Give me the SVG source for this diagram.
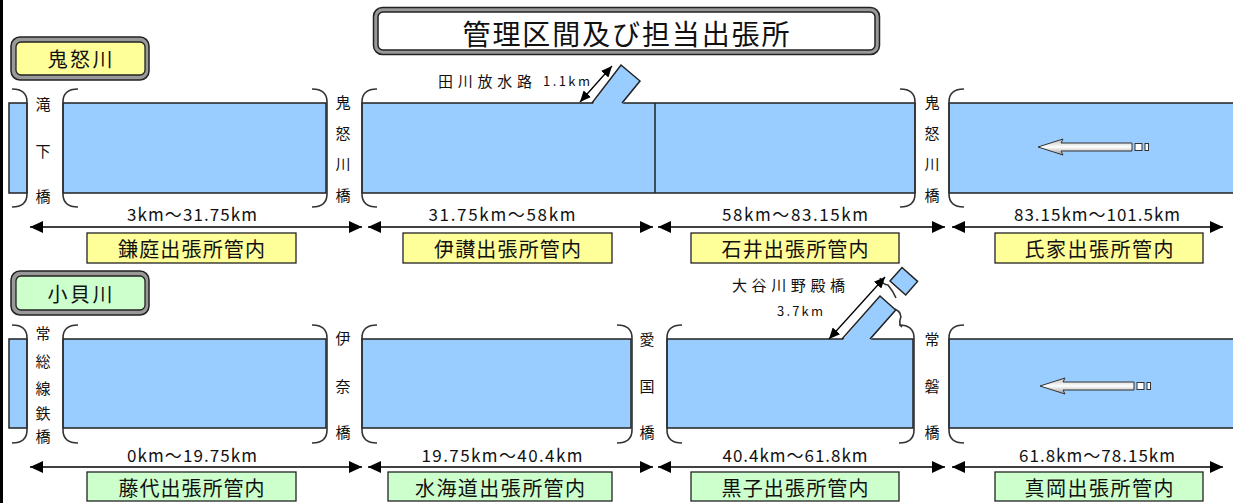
<svg xmlns="http://www.w3.org/2000/svg" xmlns:xlink="http://www.w3.org/1999/xlink" width="1233" height="503" viewBox="0 0 1233 503">
<style>
text{font-family:"Noto Sans CJK JP","Noto Sans CJK SC",sans-serif;fill:#111;}
.river{fill:#99CCFF;stroke:#222;stroke-width:1.5;}
.trib{fill:#99CCFF;stroke:none;}
.edge{fill:none;stroke:#222;stroke-width:1.5;}
.brk{fill:none;stroke:#333;stroke-width:1.6;}
.dim{stroke:#000;stroke-width:1.5;fill:none;marker-start:url(#ah);marker-end:url(#ah);}
.dim2{stroke:#000;stroke-width:1.3;fill:none;marker-start:url(#ah2);marker-end:url(#ah2);}
.vb{font-size:15px;text-anchor:middle;dominant-baseline:central;}
.km{font-size:17px;text-anchor:middle;dominant-baseline:central;}
.off{font-size:20px;text-anchor:middle;dominant-baseline:central;}
.ybox{fill:#FFFF99;stroke:#222;stroke-width:1.3;}
.gbox{fill:#CCFFCC;stroke:#222;stroke-width:1.3;}
.band{fill:#999;stroke:#222;stroke-width:1.5;}
</style>
<defs>
<marker id="ah" markerUnits="userSpaceOnUse" markerWidth="14" markerHeight="12" refX="13" refY="6" orient="auto-start-reverse"><path d="M0,0 L13,6 L0,12 Z" fill="#000"/></marker>
<marker id="ah2" markerUnits="userSpaceOnUse" markerWidth="12" markerHeight="10" refX="11" refY="5" orient="auto-start-reverse"><path d="M0,0 L11,5 L0,10 Z" fill="#000"/></marker>
<linearGradient id="ag" x1="0" y1="0" x2="0" y2="1"><stop offset="0" stop-color="#bbb"/><stop offset="0.5" stop-color="#fff"/><stop offset="1" stop-color="#999"/></linearGradient>
<g id="flow">
<path d="M0,0 L25,-8 L23,-4 L94,-4 L94,4 L23,4 L25,8 Z" fill="url(#ag)" stroke="#333" stroke-width="1"/>
<rect x="97" y="-3.5" width="7" height="7" fill="#fff" stroke="#333" stroke-width="1"/>
<rect x="107" y="-3.5" width="3.5" height="7" fill="#fff" stroke="#333" stroke-width="1"/>
</g>
</defs>
<rect x="0" y="0" width="1233" height="503" fill="#fff"/>
<rect x="0" y="0" width="3" height="503" fill="#000"/>

<g id="title">
<rect x="373.5" y="7.5" width="506" height="47" rx="9" class="band"/>
<rect x="378" y="12" width="497" height="38" rx="5" fill="#fff" stroke="#222" stroke-width="1.5"/>
<text x="626" y="33" font-size="28" text-anchor="middle" dominant-baseline="central" textLength="327" lengthAdjust="spacing">管理区間及び担当出張所</text>
</g>

<g id="label-kinugawa">
<rect x="11" y="37" width="138" height="43" rx="9" class="band"/>
<rect x="16" y="42" width="129" height="33" rx="5" class="ybox" stroke-width="1.5"/>
<text x="80" y="58" font-size="20" text-anchor="middle" dominant-baseline="central" textLength="65" lengthAdjust="spacing">鬼怒川</text>
</g>

<g id="label-kokaigawa">
<rect x="11" y="271" width="138" height="44" rx="9" class="band"/>
<rect x="16" y="276" width="129" height="34" rx="5" class="gbox" stroke-width="1.5"/>
<text x="80" y="293" font-size="20" text-anchor="middle" dominant-baseline="central" textLength="65" lengthAdjust="spacing">小貝川</text>
</g>

<!-- Row 1 river -->
<g id="river-kinugawa">
<rect x="9" y="103" width="18" height="90" class="river"/>
<rect x="63" y="103" width="263" height="90" class="river"/>
<rect x="362" y="103" width="553" height="90" class="river"/>
<line x1="655" y1="103" x2="655" y2="193" stroke="#222" stroke-width="1.5"/>
<rect x="949" y="103" width="290" height="90" class="river"/>
<use xlink:href="#flow" href="#flow" x="1038" y="147"/>
</g>

<g id="tributary-tagawa">
<path d="M592,105 L621,65 L640,81 L622,105 Z" class="trib"/>
<path d="M592,103 L621,65 L640,81 L622,103" class="edge"/>
<text x="438" y="80" font-size="15" dominant-baseline="central" textLength="94" lengthAdjust="spacing">田川放水路</text>
<text x="543" y="80" font-size="13" dominant-baseline="central" textLength="47" lengthAdjust="spacing">1.1km</text>
</g>

<g id="brackets-row1">
<path d="M12,89 Q27,89 27,102 L27,194 Q27,207 12,207" class="brk"/>
<path d="M78,89 Q63,89 63,102 L63,194 Q63,207 78,207" class="brk"/>
<path d="M312,89 Q327,89 327,102 L327,194 Q327,207 312,207" class="brk"/>
<path d="M377,89 Q362,89 362,102 L362,194 Q362,207 377,207" class="brk"/>
<path d="M900,89 Q915,89 915,102 L915,194 Q915,207 900,207" class="brk"/>
<path d="M964,89 Q949,89 949,102 L949,194 Q949,207 964,207" class="brk"/>
</g>

<g id="bridge-takishita">
<text x="43" y="103" class="vb">滝</text>
<text x="43" y="150" class="vb">下</text>
<text x="43" y="195" class="vb">橋</text>
</g>
<g id="bridge-kinugawa-1">
<text x="343" y="101" class="vb">鬼</text>
<text x="343" y="132" class="vb">怒</text>
<text x="343" y="163" class="vb">川</text>
<text x="343" y="194" class="vb">橋</text>
</g>
<g id="bridge-kinugawa-2">
<text x="932" y="101" class="vb">鬼</text>
<text x="932" y="132" class="vb">怒</text>
<text x="932" y="163" class="vb">川</text>
<text x="932" y="194" class="vb">橋</text>
</g>

<g id="km-row1">
<text x="192" y="213" class="km" textLength="130" lengthAdjust="spacing">3km～31.75km</text>
<text x="502" y="213" class="km" textLength="147" lengthAdjust="spacing">31.75km～58km</text>
<text x="795" y="213" class="km" textLength="146" lengthAdjust="spacing">58km～83.15km</text>
<text x="1097" y="213" class="km" textLength="166" lengthAdjust="spacing">83.15km～101.5km</text>
</g>

<g id="office-kamaniwa"><rect x="87" y="233" width="209" height="30" class="ybox"/><text x="191.5" y="248" class="off" textLength="147" lengthAdjust="spacing">鎌庭出張所管内</text></g>
<g id="office-isan"><rect x="403" y="233" width="209" height="30" class="ybox"/><text x="507.5" y="248" class="off" textLength="147" lengthAdjust="spacing">伊讃出張所管内</text></g>
<g id="office-ishii"><rect x="691" y="233" width="208" height="30" class="ybox"/><text x="795" y="248" class="off" textLength="147" lengthAdjust="spacing">石井出張所管内</text></g>
<g id="office-ujiie"><rect x="995" y="233" width="208" height="30" class="ybox"/><text x="1099" y="248" class="off" textLength="149" lengthAdjust="spacing">氏家出張所管内</text></g>

<!-- Row 2 river -->
<g id="river-kokaigawa">
<rect x="9" y="339" width="18" height="89" class="river"/>
<rect x="63" y="339" width="263" height="89" class="river"/>
<rect x="362" y="339" width="269" height="89" class="river"/>
<rect x="667" y="339" width="246" height="89" class="river"/>
<rect x="949" y="339" width="290" height="89" class="river"/>
<use xlink:href="#flow" href="#flow" x="1040" y="386"/>
</g>

<g id="tributary-oyagawa">
<path d="M842,341 L880,296 L895.7,310 L870,341 Z" class="trib"/>
<path d="M842,339 L880,296 L895.7,310 L870,339" class="edge"/>
<path d="M890,281 L902,267.5 L917.6,281.4 L905.7,295 Z" fill="#99CCFF" stroke="#222" stroke-width="1.5"/>
<path d="M895,309 Q903,313 900,320 Q899,325 902,327" class="brk" stroke-width="1.3"/>
<path d="M880,278 Q883,285 888,285 Q893,291 896,298" class="brk" stroke-width="1.3"/>
<text x="732" y="284" font-size="15" dominant-baseline="central" textLength="113" lengthAdjust="spacing">大谷川野殿橋</text>
<text x="777" y="310" font-size="13" dominant-baseline="central" textLength="46" lengthAdjust="spacing">3.7km</text>
</g>

<g id="brackets-row2">
<path d="M12,325 Q27,325 27,338 L27,430 Q27,443 12,443" class="brk"/>
<path d="M78,325 Q63,325 63,338 L63,430 Q63,443 78,443" class="brk"/>
<path d="M312,325 Q327,325 327,338 L327,430 Q327,443 312,443" class="brk"/>
<path d="M377,325 Q362,325 362,338 L362,430 Q362,443 377,443" class="brk"/>
<path d="M617,325 Q632,325 632,338 L632,430 Q632,443 617,443" class="brk"/>
<path d="M682,325 Q667,325 667,338 L667,430 Q667,443 682,443" class="brk"/>
<path d="M899,325 Q914,325 914,338 L914,430 Q914,443 899,443" class="brk"/>
<path d="M964,325 Q949,325 949,338 L949,430 Q949,443 964,443" class="brk"/>
</g>

<g id="bridge-joso">
<text x="43" y="332" class="vb">常</text>
<text x="43" y="360" class="vb">総</text>
<text x="43" y="387" class="vb">線</text>
<text x="43" y="412" class="vb">鉄</text>
<text x="43" y="435" class="vb">橋</text>
</g>
<g id="bridge-ina">
<text x="343" y="337" class="vb">伊</text>
<text x="343" y="385" class="vb">奈</text>
<text x="343" y="431" class="vb">橋</text>
</g>
<g id="bridge-aikoku">
<text x="647" y="338" class="vb">愛</text>
<text x="647" y="385" class="vb">国</text>
<text x="647" y="431" class="vb">橋</text>
</g>
<g id="bridge-joban">
<text x="932" y="338" class="vb">常</text>
<text x="932" y="385" class="vb">磐</text>
<text x="932" y="431" class="vb">橋</text>
</g>

<g id="km-row2">
<text x="192" y="454" class="km" textLength="130" lengthAdjust="spacing">0km～19.75km</text>
<text x="502" y="454" class="km" textLength="161" lengthAdjust="spacing">19.75km～40.4km</text>
<text x="795" y="454" class="km" textLength="145" lengthAdjust="spacing">40.4km～61.8km</text>
<text x="1097" y="454" class="km" textLength="156" lengthAdjust="spacing">61.8km～78.15km</text>
</g>

<g id="office-fujishiro"><rect x="87" y="472" width="209" height="29" class="gbox"/><text x="191.5" y="487" class="off" textLength="146" lengthAdjust="spacing">藤代出張所管内</text></g>
<g id="office-mitsukaido"><rect x="388" y="472" width="224" height="29" class="gbox"/><text x="500" y="487" class="off" textLength="170" lengthAdjust="spacing">水海道出張所管内</text></g>
<g id="office-kurogo"><rect x="691" y="472" width="208" height="29" class="gbox"/><text x="795" y="487" class="off" textLength="147" lengthAdjust="spacing">黒子出張所管内</text></g>
<g id="office-moka"><rect x="995" y="472" width="208" height="29" class="gbox"/><text x="1099" y="487" class="off" textLength="149" lengthAdjust="spacing">真岡出張所管内</text></g>

<g id="connectors">
<line x1="30" y1="227" x2="362" y2="227" class="dim"/>
<line x1="368" y1="227" x2="653" y2="227" class="dim"/>
<line x1="658" y1="227" x2="945" y2="227" class="dim"/>
<line x1="952" y1="227" x2="1223" y2="227" class="dim"/>
<line x1="30" y1="467" x2="362" y2="467" class="dim"/>
<line x1="368" y1="467" x2="653" y2="467" class="dim"/>
<line x1="658" y1="467" x2="945" y2="467" class="dim"/>
<line x1="952" y1="467" x2="1223" y2="467" class="dim"/>
<line x1="580" y1="102" x2="612" y2="66" class="dim2"/>
<line x1="829" y1="339" x2="885" y2="277" class="dim2"/>
</g>
</svg>
